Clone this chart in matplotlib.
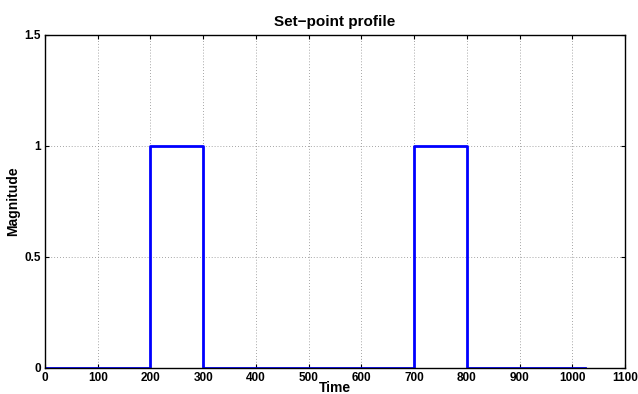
import matplotlib
matplotlib.use("Agg")
import matplotlib.pyplot as plt

# Set-point schedule: level held from each switch time until the next
switch_times = [0, 200, 300, 700, 800, 1024]
levels = [0, 1, 0, 1, 0, 0]

x_ticks = [0, 100, 200, 300, 400, 500, 600, 700, 800, 900, 1000, 1100]
y_ticks = [0, 0.5, 1, 1.5]
y_tick_labels = ["0", "0.5", "1", "1.5"]

plt.rcParams["font.family"] = ["Liberation Sans", "DejaVu Sans"]

fig = plt.figure(figsize=(6.38, 3.94), dpi=100)
ax = fig.add_axes([0.0705, 0.066, 0.9095, 0.846])

ax.step(switch_times, levels, where="post", color="#0000ff", linewidth=2.0)

ax.set_xlim(0, 1100)
ax.set_ylim(0, 1.5)
ax.set_xticks(x_ticks)
ax.set_xticklabels([str(t) for t in x_ticks], fontsize=8.5, fontweight="bold")
ax.set_yticks(y_ticks)
ax.set_yticklabels(y_tick_labels, fontsize=8.5, fontweight="bold")

ax.grid(True, linestyle=(0, (1, 2.5)), color="#888888", linewidth=0.6)
ax.tick_params(direction="in", length=3, width=0.8, top=True, right=True)
ax.tick_params(axis="x", pad=3)
ax.tick_params(axis="y", pad=3)
for s in ax.spines.values():
    s.set_linewidth(1.0)

ax.set_title("Set\u2212point profile", fontsize=11, fontweight="bold", pad=6)
ax.set_xlabel("Time", fontsize=10, fontweight="bold", labelpad=-2)
ax.set_ylabel("Magnitude", fontsize=10, fontweight="bold", labelpad=3)

fig.savefig("out.png", dpi=100)
